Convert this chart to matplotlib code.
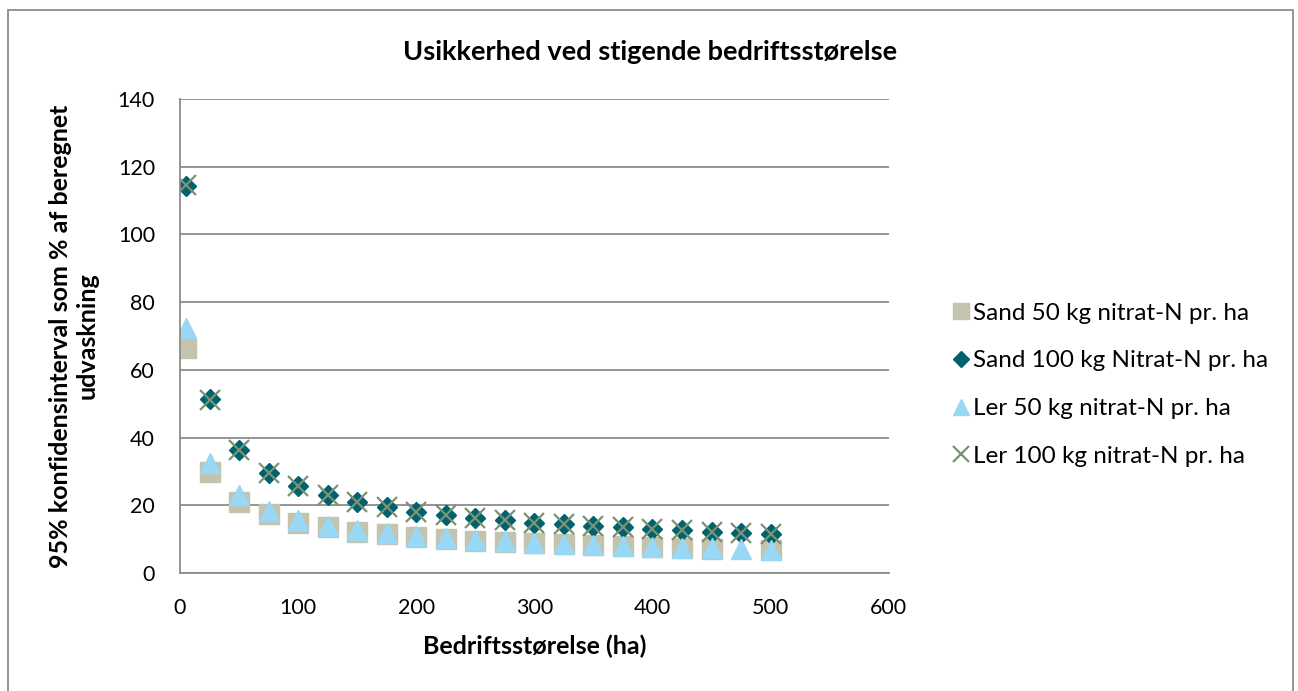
import numpy as np
import matplotlib.pyplot as plt
from matplotlib.patches import Rectangle

W, H = 1298, 691

# bedriftsstørrelse (ha)
size_ha = [5, 25, 50, 75, 100, 125, 150, 175, 200, 225, 250,
           275, 300, 325, 350, 375, 400, 425, 450, 475, 500]

sand_50 = [66.4, 29.7, 21.1, 17.3, 14.9, 13.5, 12.2, 11.4, 10.6, 10.0, 9.5,
           9.1, 8.8, 8.5, 8.2, 7.9, 7.7, 7.4, 7.2, np.nan, 6.7]
sand_100 = [114.4, 51.3, 36.3, 29.6, 25.7, 23.0, 20.9, 19.4, 18.1, 17.1, 16.2,
            15.6, 14.9, 14.4, 14.0, 13.5, 13.0, 12.7, 12.2, 11.9, 11.6]
ler_50 = [72.4, 32.4, 23.0, 18.4, 15.8, 14.0, 12.8, 11.8, 11.0, 10.4, 9.8,
          9.4, 9.0, 8.7, 8.4, 8.1, 7.8, 7.5, 7.3, 7.0, 6.8]
ler_100 = [114.6, 51.2, 36.2, 29.6, 25.6, 22.9, 20.9, 19.4, 18.1, 17.1, 16.2,
           15.6, 14.9, 14.4, 14.0, 13.5, 13.0, 12.7, 12.2, 11.9, 11.6]

labels = ["Sand 50 kg nitrat-N pr. ha", "Sand 100 kg Nitrat-N pr. ha",
          "Ler 50 kg nitrat-N pr. ha", "Ler 100 kg nitrat-N pr. ha"]

plt.rcParams['font.family'] = ['Lato', 'DejaVu Sans']

fig = plt.figure(figsize=(W / 100, H / 100), dpi=100)
fig.patch.set_facecolor("white")

# chart border
fig.patches.append(Rectangle((8 / W, -0.05), (1293 - 8) / W, 1.05 - 10 / H,
                             transform=fig.transFigure, fill=False,
                             edgecolor="#8c8c8c", linewidth=1.3))

ax = fig.add_axes([180 / W, (H - 573) / H, (888.7 - 180) / W, (573 - 99) / H])

ax.plot(size_ha, sand_50, linestyle="none", marker="s", ms=14.4,
        color="#c4c3ad", mec="#c4c3ad", label=labels[0])
ax.plot(size_ha, sand_100, linestyle="none", marker="D", ms=10.2,
        color="#00626f", mec="#00626f", label=labels[1])
ax.plot(size_ha, ler_50, linestyle="none", marker="^", ms=14.4,
        color="#99d8f5", mec="#99d8f5", label=labels[2])
ax.plot(size_ha, ler_100, linestyle="none", marker="x", ms=14.4, mew=1.6,
        color="#7a9272", label=labels[3])

ax.set_xlim(0, 600)
ax.set_ylim(0, 140)
ax.set_xticks(range(0, 601, 100))
ax.set_yticks(range(0, 141, 20))
ax.grid(axis="y", color="#8c8c8c", linewidth=1.3)
ax.set_axisbelow(True)
for s in ["top", "right"]:
    ax.spines[s].set_visible(False)
for s in ["left", "bottom"]:
    ax.spines[s].set_color("#8c8c8c")
    ax.spines[s].set_linewidth(1.3)
ax.tick_params(length=0, labelsize=15.5)
ax.tick_params(axis="x", pad=18)
ax.tick_params(axis="y", pad=18)

ax.set_xlabel("Bedriftsstørelse (ha)", fontsize=18, fontweight="bold", labelpad=12)
ax.set_ylabel("95% konfidensinterval som % af beregnet\nudvaskning",
              fontsize=18, fontweight="bold", labelpad=14, linespacing=1.2)

fig.text(650 / W, 1 - 52 / H, "Usikkerhed ved stigende bedriftsstørelse",
         ha="center", va="center", fontsize=19.5, fontweight="bold")

fig.legend(loc="upper left", bbox_to_anchor=(939 / W, 1 - 293 / H),
           frameon=False, fontsize=17.5, handletextpad=0.0,
           labelspacing=1.1, borderaxespad=0, handlelength=1.0,
           markerscale=0.8)

fig.savefig("out.png", dpi=100)
